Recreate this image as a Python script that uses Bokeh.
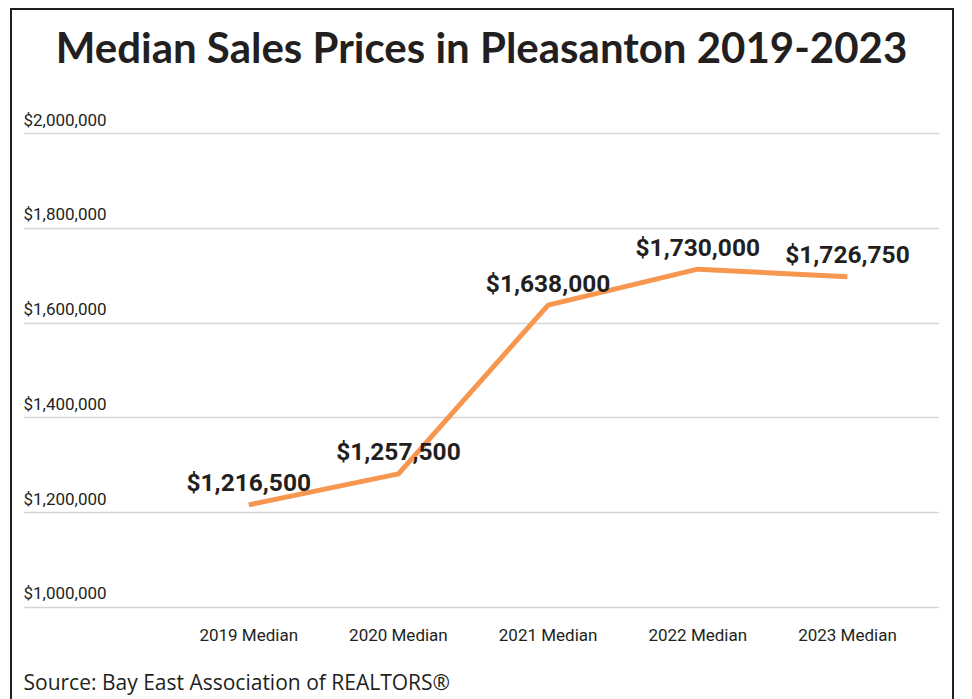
from bokeh.plotting import figure
from bokeh.models import FixedTicker, ColumnDataSource, Title, Range1d
from bokeh.core.properties import value
from bokeh.embed import file_html
from bokeh.resources import INLINE

# ---- data ----
categories = ["2019 Median", "2020 Median", "2021 Median", "2022 Median", "2023 Median"]
line_prices = [1216500, 1282000, 1638000, 1714000, 1698000]      # line as drawn
label_prices = [1216500, 1257500, 1638000, 1730000, 1726750]     # printed values
y_ticks = [1000000, 1200000, 1400000, 1600000, 1800000, 2000000]
y_tick_labels = ["$1,000,000", "$1,200,000", "$1,400,000", "$1,600,000", "$1,800,000", "$2,000,000"]

TXT = "#231f20"
ORANGE = "#f7964f"
NARROW = "Roboto"

xs = list(range(len(categories)))
x_start, x_end = -1.505, 4.615

p = figure(width=944, height=691, output_backend="svg", toolbar_location=None,
           x_range=Range1d(x_start, x_end), y_range=Range1d(978800, 2069900),
           min_border_left=11, min_border_right=17, min_border_top=90, min_border_bottom=84)
p.styles = {"border-left": f"2px solid {TXT}", "border-top": f"2px solid {TXT}",
            "border-right": f"2px solid {TXT}", "margin-left": "10px", "margin-top": "8px"}
p.outline_line_color = None
p.background_fill_color = "white"
p.border_fill_color = "white"

# spacer between frame and title
p.add_layout(Title(text=" ", text_font_size="1px", standoff=21), "above")

p.title.text = "Median Sales Prices in Pleasanton 2019-2023"
p.title.align = "center"
p.title.text_font = "Lato"
p.title.text_font_style = "bold"
p.title.text_font_size = "42px"
p.title.text_color = TXT
p.title.standoff = 10

# grid
p.xgrid.visible = False
p.ygrid.ticker = FixedTicker(ticks=y_ticks)
p.ygrid.grid_line_color = "#d6d6d6"
p.ygrid.grid_line_width = 1.5
p.yaxis.visible = False
p.yaxis.ticker = FixedTicker(ticks=y_ticks)

# x axis
xa = p.xaxis[0]
xa.ticker = FixedTicker(ticks=xs)
xa.major_label_overrides = {i: c for i, c in zip(xs, categories)}
xa.axis_line_color = None
xa.major_tick_line_color = None
xa.minor_tick_line_color = None
xa.major_tick_out = 0
xa.major_label_standoff = 7
xa.major_label_text_font = NARROW
xa.major_label_text_font_size = "17px"
xa.major_label_text_color = TXT

# y tick labels inside the frame, above gridlines
ysrc = ColumnDataSource(dict(x=[x_start] * len(y_ticks), y=y_ticks, t=y_tick_labels))
p.text(x="x", y="y", text="t", source=ysrc, text_align="left", text_baseline="alphabetic",
       y_offset=-14, text_font=value(NARROW), text_font_size="17px", text_color=TXT)

# line
src = ColumnDataSource(dict(x=xs, y=line_prices,
                            t=[f"${v:,.0f}" for v in label_prices]))
p.line(x="x", y="y", source=src, line_color=ORANGE, line_width=5, line_join="round")
p.text(x="x", y="y", text="t", source=src, text_align="center", text_baseline="alphabetic",
       y_offset=-22, text_font=value(NARROW), text_font_style="bold",
       text_font_size="24.5px", text_color=TXT)

# spacer between axis labels and source note
p.add_layout(Title(text=" ", text_font_size="1px", standoff=15), "below")
src_title = Title(text="Source: Bay East Association of REALTORS\u00ae", align="left",
                  text_font="Open Sans", text_font_style="normal", text_font_size="21px",
                  text_color=TXT, standoff=0)
p.add_layout(src_title, "below")

open("out.html", "w").write(file_html(p, INLINE))
